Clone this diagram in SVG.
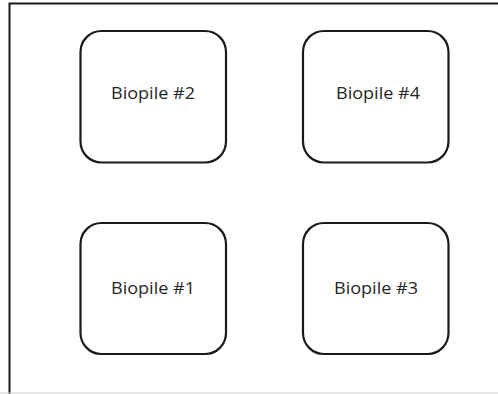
<svg xmlns="http://www.w3.org/2000/svg" width="498" height="394" viewBox="0 0 498 394">
  <style>
    .box { fill: #ffffff; stroke: #1a1a1a; stroke-width: 2.2; }
    .lbl { font-family: "Open Sans", "Liberation Sans", Arial, sans-serif; font-size: 16.5px; fill: #262626; text-anchor: middle; }
  </style>
  <rect x="0" y="0" width="498" height="394" fill="#ffffff"/>
  <g id="frame">
    <path d="M9.5 394 V3.5 H498" fill="none" stroke="#1a1a1a" stroke-width="2"/>
    <line x1="0" y1="393" x2="498" y2="393" stroke="#d0d0d0" stroke-width="1"/>
  </g>
  <g id="connectors"></g>
  <g id="biopile2">
    <rect class="box" x="80.5" y="31" width="145.5" height="131.5" rx="21" ry="21"/>
    <text class="lbl" x="153" y="99" textLength="84" lengthAdjust="spacingAndGlyphs">Biopile #2</text>
  </g>
  <g id="biopile4">
    <rect class="box" x="303" y="31" width="145.5" height="131.5" rx="21" ry="21"/>
    <text class="lbl" x="378" y="99" textLength="84" lengthAdjust="spacingAndGlyphs">Biopile #4</text>
  </g>
  <g id="biopile1">
    <rect class="box" x="80.5" y="223" width="145.5" height="131" rx="21" ry="21"/>
    <text class="lbl" x="153" y="294" textLength="84" lengthAdjust="spacingAndGlyphs">Biopile #1</text>
  </g>
  <g id="biopile3">
    <rect class="box" x="303" y="223" width="145.5" height="131" rx="21" ry="21"/>
    <text class="lbl" x="376" y="294" textLength="84" lengthAdjust="spacingAndGlyphs">Biopile #3</text>
  </g>
</svg>
